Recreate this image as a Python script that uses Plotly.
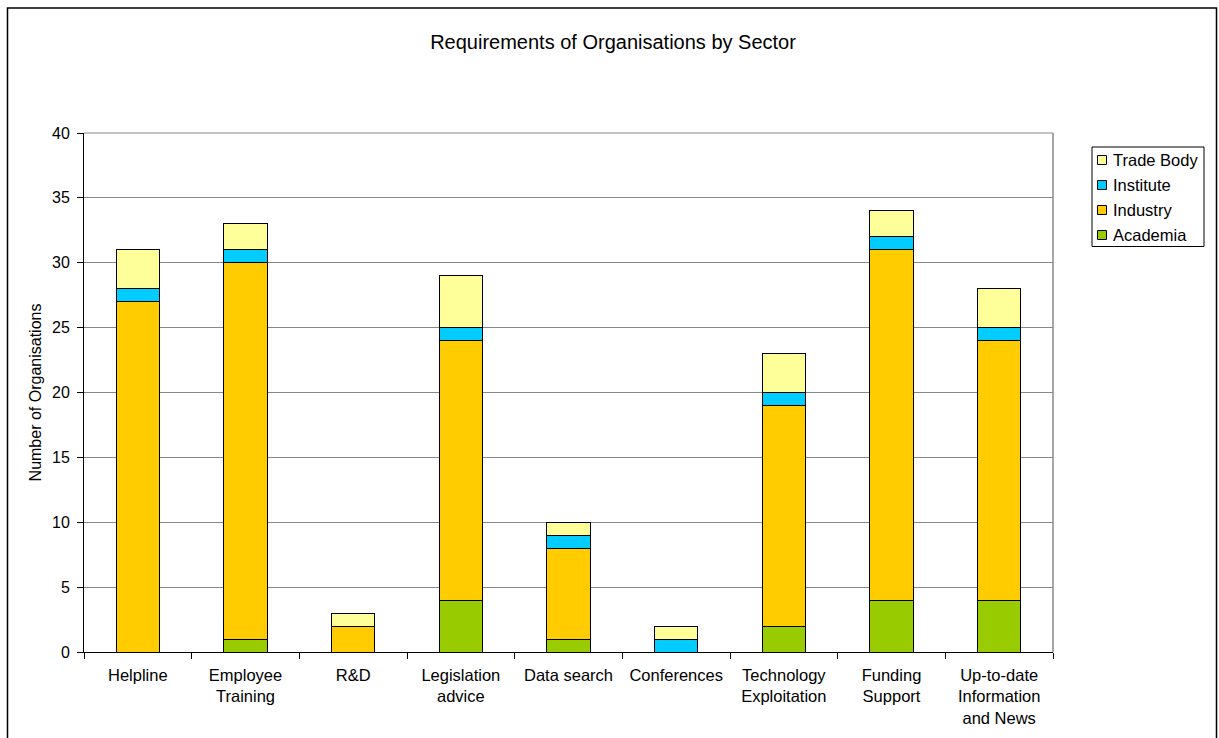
import plotly.graph_objects as go

categories = ["Helpline", "Employee<br>Training", "R&D", "Legislation<br>advice", "Data search",
              "Conferences", "Technology<br>Exploitation", "Funding<br>Support",
              "Up-to-date<br>Information<br>and News"]
academia = [0, 1, 0, 4, 1, 0, 2, 4, 4]
industry = [27, 29, 2, 20, 7, 0, 17, 27, 20]
institute = [1, 1, 0, 1, 1, 1, 1, 1, 1]
trade_body = [3, 2, 1, 4, 1, 1, 3, 2, 3]

series_names = ["Academia", "Industry", "Institute", "Trade Body"]
series_values = [academia, industry, institute, trade_body]
series_colors = ["#99CC00", "#FFCC00", "#00CCFF", "#FFFF99"]

fig = go.Figure()
for name, vals, col in zip(series_names, series_values, series_colors):
    fig.add_trace(go.Bar(x=categories, y=vals, name=name, width=0.4, showlegend=False,
                         marker=dict(color=col, line=dict(color="black", width=1))))

W, H = 1219, 738
L, R, T, B = 84, 1053, 133, 652
pw, ph = R - L, B - T

def px(x):
    return (x - L) / pw

def py(y):
    return (B - y) / ph

shapes = [
    dict(type="line", xref="paper", yref="paper", x0=1, x1=1, y0=0, y1=1,
         line=dict(color="#888888", width=1.5)),
    dict(type="line", xref="paper", yref="paper", x0=0, x1=1, y0=1, y1=1,
         line=dict(color="#888888", width=1)),
    dict(type="rect", xref="paper", yref="paper", x0=px(7.5), x1=px(1216.5),
         y0=py(760), y1=py(8), line=dict(color="black", width=1.5),
         fillcolor="rgba(0,0,0,0)", layer="below"),
    # legend box
    dict(type="rect", xref="paper", yref="paper", x0=px(1092), x1=px(1204),
         y0=py(246.5), y1=py(147), line=dict(color="black", width=1),
         fillcolor="white"),
]
annotations = []
# legend entries, reversed order (Trade Body on top)
for i, idx in enumerate(reversed(range(len(series_names)))):
    cy = 160 + 25 * i
    shapes.append(dict(type="rect", xref="paper", yref="paper", x0=px(1097.5), x1=px(1106.5),
                       y0=py(cy + 4.5), y1=py(cy - 4.5),
                       line=dict(color="black", width=1), fillcolor=series_colors[idx]))
    annotations.append(dict(text=series_names[idx], xref="paper", yref="paper",
                            x=px(1111), y=py(cy), xanchor="left", yanchor="middle",
                            showarrow=False, font=dict(size=16.5)))

fig.update_layout(
    barmode="stack",
    width=W, height=H,
    margin=dict(l=L, r=W - R, t=T, b=H - B),
    paper_bgcolor="white", plot_bgcolor="white",
    font=dict(family="Liberation Sans, Arial", size=16, color="black"),
    title=dict(text="Requirements of Organisations by Sector", x=px(613), xref="paper",
               xanchor="center", y=1 - 42 / H, yanchor="middle", font=dict(size=20)),
    showlegend=False,
    xaxis=dict(showline=True, linecolor="black", linewidth=1, ticks="outside",
               tickson="boundaries", ticklen=6, tickcolor="black",
               tickfont=dict(size=16.5), ticklabelstandoff=8),
    yaxis=dict(range=[0, 40], dtick=5, showgrid=True, gridcolor="#888888", gridwidth=1,
               showline=True, linecolor="black", linewidth=1, ticks="outside",
               ticklen=6, tickcolor="black", tickfont=dict(size=16), ticklabelstandoff=4,
               title=dict(text="Number of Organisations", font=dict(size=16), standoff=6)),
    shapes=shapes,
    annotations=annotations,
)

fig.write_html("out.html", config={"displayModeBar": False},
               post_script="document.body.style.margin='0';document.body.style.overflow='hidden';")
